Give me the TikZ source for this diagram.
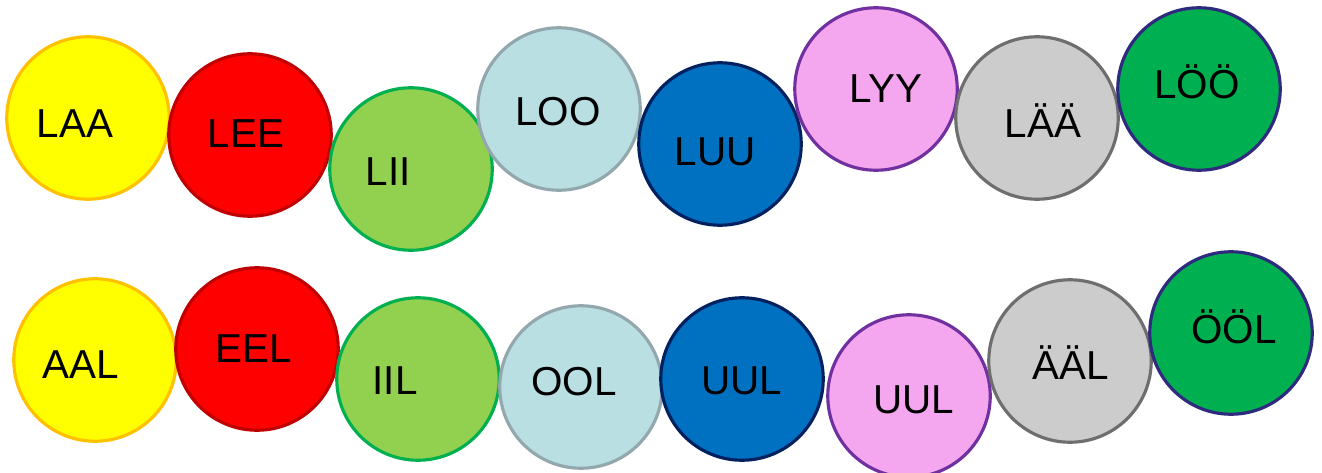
\documentclass[tikz,border=0pt]{standalone}
\usepackage{fontspec}
\setmainfont{Liberation Sans}
\usepackage{tikz}
\usepackage{xcolor}
% bead colours: fill / rim
\definecolor{yelfill}{HTML}{FFFF00}
\definecolor{yelrim}{HTML}{FFC000}
\definecolor{redfill}{HTML}{FF0000}
\definecolor{redrim}{HTML}{C00000}
\definecolor{lgrfill}{HTML}{92D050}
\definecolor{lgrrim}{HTML}{00B050}
\definecolor{lblfill}{HTML}{B9DFE3}
\definecolor{lblrim}{HTML}{93A8AC}
\definecolor{blufill}{HTML}{0070C0}
\definecolor{blurim}{HTML}{002060}
\definecolor{pnkfill}{HTML}{F4A6EF}
\definecolor{pnkrim}{HTML}{7030A0}
\definecolor{gryfill}{HTML}{CCCCCC}
\definecolor{gryrim}{HTML}{6E6E6E}
\definecolor{dgrfill}{HTML}{00B050}
\definecolor{dgrrim}{HTML}{2E2A7E}

\begin{document}
\begin{tikzpicture}[x=0.02cm, y=-0.02cm,
  bead/.style={circle, line width=1.8pt, minimum size=3.25cm, inner sep=0pt},
  word/.style={font=\fontsize{23}{27}\selectfont, inner sep=0pt, anchor=base}]
\useasboundingbox (0,0) rectangle (1322,473);
% top row: L + long vowel
\foreach \n/\cx/\cy/\col/\tx/\ty/\t in {
  1/88/118/yel/75/137/LAA,
  2/250/135/red/246/148/LEE,
  3/411/169/lgr/388/185/LII,
  4/559/109/lbl/558/126/LOO,
  5/720/144/blu/715/165/LUU,
  6/876/89/pnk/886/103/LYY,
  7/1037/118/gry/1043/137/LÄÄ,
  8/1199/89/dgr/1197/99/LÖÖ}{
  \node[bead, fill=\col fill, draw=\col rim] (top\n) at (\cx,\cy) {};
  \node[word] (topw\n) at (\tx,\ty) {\t};
}
% bottom row: long vowel + L
\foreach \n/\cx/\cy/\col/\tx/\ty/\t in {
  1/95/360/yel/81/378/AAL,
  2/257/349/red/254/362/EEL,
  3/418/379/lgr/395/394/IIL,
  4/581/387/lbl/574/395/OOL,
  5/742/379/blu/742/394/UUL,
  6/909/396/pnk/914/413/UUL,
  7/1070/361/gry/1071/379/ÄÄL,
  8/1231/333/dgr/1234/343/ÖÖL}{
  \node[bead, fill=\col fill, draw=\col rim] (bot\n) at (\cx,\cy) {};
  \node[word] (botw\n) at (\tx,\ty) {\t};
}
\end{tikzpicture}
\end{document}
